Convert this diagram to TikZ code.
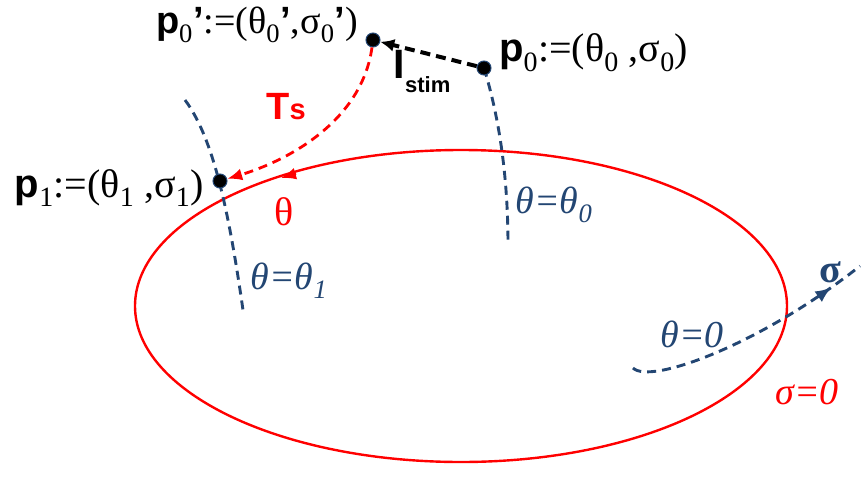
\documentclass[tikz,border=0pt]{standalone}
\usepackage{fontspec}
\setmainfont{Liberation Serif}
\setsansfont{Liberation Sans}
\usetikzlibrary{arrows.meta,decorations.markings}
\definecolor{curveblue}{RGB}{35,70,115}
\tikzset{
  dot/.style={circle, fill=black, draw=curveblue, line width=1pt, inner sep=0pt, minimum size=14pt},
  bluedash/.style={curveblue, line width=2.9pt, dash pattern=on 9pt off 6pt},
  lbl/.style={inner sep=0pt, font=\fontsize{40}{42}\selectfont},
  isolbl/.style={inner sep=0pt, curveblue, font=\fontsize{38}{40}\selectfont\itshape},
}
\newcommand{\ptname}{\textsf{\textbf{p}}}
\newcommand{\pr}{\textsf{\textbf{'}}}
\begin{document}
\begin{tikzpicture}[x=1pt,y=-1pt]
  \useasboundingbox (0,0) rectangle (863,493);
  % limit cycle sigma=0
  \draw[red, line width=2.4pt] (461,306) ellipse [x radius=326, y radius=156];
  \draw[red, line width=2.4pt, -{Latex[length=15pt,width=12pt]}] (296,173.5) -- (281,178);
  % isochrons
  \draw[bluedash] (185,100) .. controls (215,140) and (230,220) .. (243,310);
  \draw[bluedash] (484,68) .. controls (500,120) and (508,180) .. (508,245);
  \draw[bluedash, postaction={decorate},
    decoration={markings, mark=at position 0.86 with {\arrow{Latex[length=16pt,width=13pt]}}}]
    (633,368) .. controls (650,385) and (760,345) .. (860,266);
  % points
  \node[dot] (p0) at (484,68) {};
  \node[dot] (p0s) at (373,40) {};
  \node[dot] (p1) at (220,181) {};
  % stimulus and flow
  \draw[black, line width=4pt, dash pattern=on 10pt off 6pt, -{Latex[length=14pt,width=13pt]}] (p0) -- (p0s);
  \draw[red, line width=2.8pt, dash pattern=on 9pt off 6pt, -{Latex[length=15pt,width=12pt]}]
    (p0s) .. controls (362,120) and (290,160) .. (p1);
  % labels
  \node[lbl, anchor=east, font=\fontsize{38}{40}\selectfont] (p0slbl) at (358,25) {\ptname\textsubscript{0}\pr:=(θ\textsubscript{0}\pr,σ\textsubscript{0}\pr)};
  \node[lbl, anchor=west] (p0lbl) at (499,53) {\ptname\textsubscript{0}:=(θ\textsubscript{0} ,σ\textsubscript{0})};
  \node[lbl, anchor=east] (p1lbl) at (204,188) {\ptname\textsubscript{1}:=(θ\textsubscript{1} ,σ\textsubscript{1})};
  \node[inner sep=0pt, red, font=\sffamily\bfseries\fontsize{38}{40}\selectfont] (ts) at (286,107) {T{\fontsize{29}{30}\selectfont s}};
  \node[inner sep=0pt, font=\sffamily\bfseries\fontsize{41}{44}\selectfont] (istim) at (422,72) {I\raisebox{-14pt}{\fontsize{22}{24}\selectfont stim}};
  \node[lbl, red] (theta) at (284,212) {θ};
  \node[isolbl] (iso1) at (289,281) {θ=θ\textsubscript{1}};
  \node[isolbl] (iso0) at (554,205) {θ=θ\textsubscript{0}};
  \node[isolbl] (isoz) at (692,334) {θ=0};
  \node[lbl, red, font=\fontsize{38}{40}\selectfont\itshape] (sigz) at (807,392) {σ=0};
  \node[lbl, curveblue, font=\fontsize{40}{42}\selectfont\bfseries] (sig) at (830,272) {σ};
\end{tikzpicture}
\end{document}
